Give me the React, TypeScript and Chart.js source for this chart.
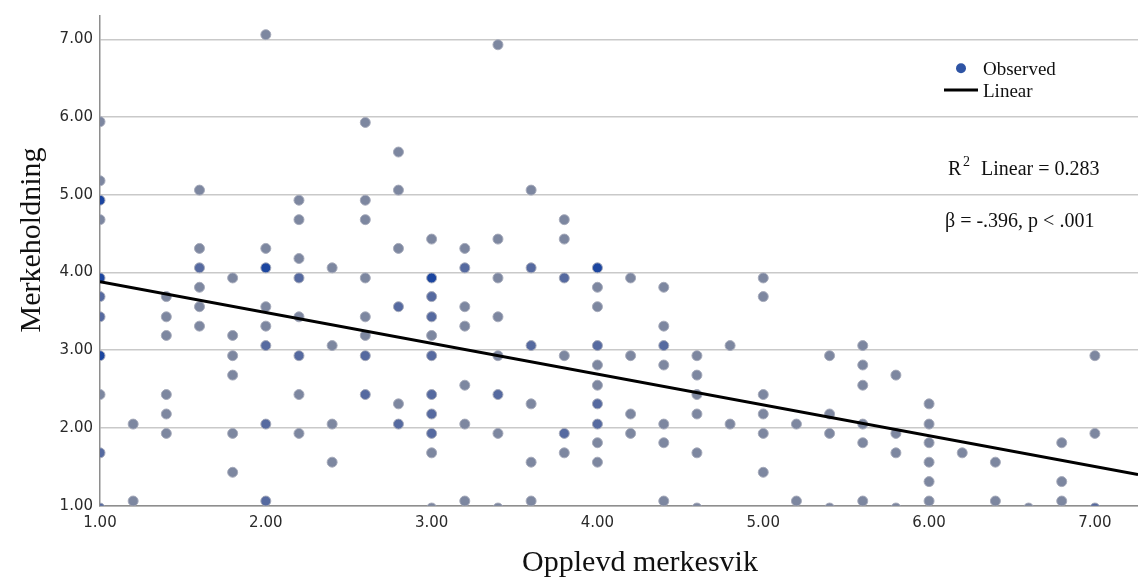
import React, { useEffect, useRef } from "react";
import { Chart, registerables } from "chart.js";

Chart.register(...registerables);

// Observed cases: x, y and number of overlapping cases at that spot
const obsX = [
  1.0, 1.0, 1.0, 1.0, 1.0, 1.0, 1.0, 1.0, 1.0, 1.0, 1.0,
  1.2, 1.2,
  1.4, 1.4, 1.4, 1.4, 1.4, 1.4,
  1.6, 1.6, 1.6, 1.6, 1.6, 1.6,
  1.8, 1.8, 1.8, 1.8, 1.8, 1.8,
  2.0, 2.0, 2.0, 2.0, 2.0, 2.0, 2.0, 2.0,
  2.2, 2.2, 2.2, 2.2, 2.2, 2.2, 2.2, 2.2,
  2.4, 2.4, 2.4, 2.4,
  2.6, 2.6, 2.6, 2.6, 2.6, 2.6, 2.6, 2.6,
  2.8, 2.8, 2.8, 2.8, 2.8, 2.8,
  3.0, 3.0, 3.0, 3.0, 3.0, 3.0, 3.0, 3.0, 3.0, 3.0, 3.0,
  3.2, 3.2, 3.2, 3.2, 3.2, 3.2, 3.2,
  3.4, 3.4, 3.4, 3.4, 3.4, 3.4, 3.4, 3.4,
  3.6, 3.6, 3.6, 3.6, 3.6, 3.6,
  3.8, 3.8, 3.8, 3.8, 3.8, 3.8,
  4.0, 4.0, 4.0, 4.0, 4.0, 4.0, 4.0, 4.0, 4.0, 4.0,
  4.2, 4.2, 4.2, 4.2,
  4.4, 4.4, 4.4, 4.4, 4.4, 4.4, 4.4,
  4.6, 4.6, 4.6, 4.6, 4.6, 4.6,
  4.8, 4.8,
  5.0, 5.0, 5.0, 5.0, 5.0, 5.0,
  5.2, 5.2,
  5.4, 5.4, 5.4, 5.4,
  5.6, 5.6, 5.6, 5.6, 5.6, 5.6,
  5.8, 5.8, 5.8, 5.8,
  6.0, 6.0, 6.0, 6.0, 6.0, 6.0,
  6.2,
  6.4, 6.4,
  6.6,
  6.8, 6.8, 6.8,
  7.0, 7.0, 7.0,
];

const obsY = [
  5.94, 5.18, 4.93, 4.68, 3.93, 3.69, 3.43, 2.93, 2.43, 1.68, 0.97,
  2.05, 1.06,
  3.69, 3.43, 3.19, 2.43, 2.18, 1.93,
  5.06, 4.31, 4.06, 3.81, 3.56, 3.31,
  3.93, 3.19, 2.93, 2.68, 1.93, 1.43,
  7.06, 4.31, 4.06, 3.56, 3.31, 3.06, 2.05, 1.06,
  4.93, 4.68, 4.18, 3.93, 3.43, 2.93, 2.43, 1.93,
  4.06, 3.06, 2.05, 1.56,
  5.93, 4.93, 4.68, 3.93, 3.43, 3.19, 2.93, 2.43,
  5.55, 5.06, 4.31, 3.56, 2.31, 2.05,
  4.43, 3.93, 3.69, 3.43, 3.19, 2.93, 2.43, 2.18, 1.93, 1.68, 0.97,
  4.31, 4.06, 3.56, 3.31, 2.55, 2.05, 1.06,
  6.93, 4.43, 3.93, 3.43, 2.93, 2.43, 1.93, 0.97,
  5.06, 4.06, 3.06, 2.31, 1.56, 1.06,
  4.68, 4.43, 3.93, 2.93, 1.93, 1.68,
  4.06, 3.81, 3.56, 3.06, 2.81, 2.55, 2.31, 2.05, 1.81, 1.56,
  3.93, 2.93, 2.18, 1.93,
  3.81, 3.31, 3.06, 2.81, 2.05, 1.81, 1.06,
  2.93, 2.68, 2.43, 2.18, 1.68, 0.97,
  3.06, 2.05,
  3.93, 3.69, 2.43, 2.18, 1.93, 1.43,
  2.05, 1.06,
  2.93, 2.18, 1.93, 0.97,
  3.06, 2.81, 2.55, 2.05, 1.81, 1.06,
  2.68, 1.93, 1.68, 0.97,
  2.31, 2.05, 1.81, 1.56, 1.31, 1.06,
  1.68,
  1.56, 1.06,
  0.97,
  1.81, 1.31, 1.06,
  2.93, 1.93, 0.97,
];

const obsN = [
  1, 1, 3, 1, 3, 2, 2, 3, 1, 2, 2,
  1, 1,
  1, 1, 1, 1, 1, 1,
  1, 1, 2, 1, 1, 1,
  1, 1, 1, 1, 1, 1,
  1, 1, 3, 1, 1, 2, 2, 2,
  1, 1, 1, 2, 1, 2, 1, 1,
  1, 1, 1, 1,
  1, 1, 1, 1, 1, 1, 2, 2,
  1, 1, 1, 2, 1, 2,
  1, 3, 2, 2, 1, 2, 2, 2, 2, 1, 1,
  1, 2, 1, 1, 1, 1, 1,
  1, 1, 1, 1, 1, 2, 1, 1,
  1, 2, 2, 1, 1, 1,
  1, 1, 2, 1, 2, 1,
  3, 1, 1, 2, 1, 1, 2, 2, 1, 1,
  1, 1, 1, 1,
  1, 1, 2, 1, 1, 1, 1,
  1, 1, 1, 1, 1, 1,
  1, 1,
  1, 1, 1, 1, 1, 1,
  1, 1,
  1, 1, 1, 1,
  1, 1, 1, 1, 1, 1,
  1, 1, 1, 1,
  1, 1, 1, 1, 1, 1,
  1,
  1, 1,
  1,
  1, 1, 1,
  1, 1, 2,
];

// Linear fit line end points
const fitX = [1.0, 7.26];
const fitY = [3.88, 1.4];

const xTicks = [1, 2, 3, 4, 5, 6, 7];
const yTicks = [1, 2, 3, 4, 5, 6, 7];
const xTickLabels = ["1.00", "2.00", "3.00", "4.00", "5.00", "6.00", "7.00"];
const yTickLabels = ["1.00", "2.00", "3.00", "4.00", "5.00", "6.00", "7.00"];

const xTitle = "Opplevd merkesvik";
const yTitle = "Merkeholdning";
const legendLabels = ["Observed", "Linear"];
const r2Label = "R";
const r2Sup = "2";
const r2Rest = "Linear = 0.283";
const betaLabel = "β = -.396, p < .001";

const pointColors = ["rgb(125,135,160)", "rgb(86,106,160)", "rgb(28,70,160)"];
const legendDotColor = "rgb(46,84,164)";

const overlayPlugin = {
  id: "overlayText",
  afterDraw(chart: any) {
    const { ctx, chartArea } = chart;
    const serif = "'Liberation Serif', 'Times New Roman', serif";
    ctx.save();
    ctx.fillStyle = "#111";
    ctx.textBaseline = "alphabetic";

    // x axis title
    ctx.font = `30px ${serif}`;
    ctx.textAlign = "center";
    ctx.fillText(xTitle, 640, 571);

    // y axis title
    ctx.save();
    ctx.translate(40, 240);
    ctx.rotate(-Math.PI / 2);
    ctx.fillText(yTitle, 0, 0);
    ctx.restore();

    // legend
    const lx = chartArea.right - 177;
    ctx.fillStyle = legendDotColor;
    ctx.beginPath();
    ctx.arc(lx, 68.3, 5, 0, Math.PI * 2);
    ctx.fill();
    ctx.fillStyle = "#111";
    ctx.font = `19px ${serif}`;
    ctx.textAlign = "left";
    ctx.fillText(legendLabels[0], lx + 22, 75);
    ctx.strokeStyle = "#000";
    ctx.lineWidth = 3;
    ctx.beginPath();
    ctx.moveTo(lx - 17, 90);
    ctx.lineTo(lx + 17, 90);
    ctx.stroke();
    ctx.fillText(legendLabels[1], lx + 22, 97);

    // statistics
    ctx.font = `20px ${serif}`;
    ctx.fillText(r2Label, 948, 175);
    ctx.font = `14px ${serif}`;
    ctx.fillText(r2Sup, 963, 166);
    ctx.font = `20px ${serif}`;
    ctx.fillText(r2Rest, 981, 175);
    ctx.fillText(betaLabel, 945, 227);

    ctx.restore();
  },
};

export default function App() {
  const canvasRef = useRef<HTMLCanvasElement | null>(null);

  useEffect(() => {
    const canvas = canvasRef.current;
    if (!canvas) return;

    const observed = obsX.map((x, i) => ({ x, y: obsY[i] }));
    const fit = fitX.map((x, i) => ({ x, y: fitY[i] }));

    const tickFont = { family: "'DejaVu Sans', sans-serif", size: 15 };

    const chart = new Chart(canvas, {
      type: "scatter",
      data: {
        datasets: [
          {
            type: "line",
            label: legendLabels[1],
            data: fit,
            borderColor: "#000",
            borderWidth: 3,
            pointRadius: 0,
            fill: false,
            order: 0,
            clip: 0,
          } as any,
          {
            type: "scatter",
            label: legendLabels[0],
            data: observed,
            backgroundColor: obsN.map((n) => pointColors[Math.min(n, 3) - 1]),
            borderColor: "rgba(165,170,185,0.95)",
            borderWidth: 1,
            pointRadius: 5,
            pointHoverRadius: 5,
            order: 1,
            clip: 0,
          } as any,
        ],
      },
      options: {
        animation: false,
        responsive: false,
        events: [],
        layout: { autoPadding: false, padding: { top: 13, right: 0, left: 0, bottom: 0 } },
        plugins: {
          legend: { display: false },
          tooltip: { enabled: false },
        },
        scales: {
          x: {
            type: "linear",
            min: 1,
            max: 7.26,
            afterBuildTicks: (s: any) => {
              s.ticks = xTicks.map((v) => ({ value: v }));
            },
            afterFit: (s: any) => {
              s.height = 72.3;
            },
            grid: { display: false, drawTicks: false },
            border: { display: true, color: "#8e8e8e", width: 1.5 },
            ticks: {
              font: tickFont,
              color: "#2a2a2a",
              padding: 8,
              maxRotation: 0,
              autoSkip: false,
              callback: (v: any) => xTickLabels[xTicks.indexOf(Number(v))] ?? "",
            },
          },
          y: {
            type: "linear",
            min: 1,
            max: 7.3,
            afterBuildTicks: (s: any) => {
              s.ticks = yTicks.map((v) => ({ value: v }));
            },
            afterFit: (s: any) => {
              s.width = 100;
            },
            grid: { display: true, drawTicks: false, color: "#c9c9c9", lineWidth: 1.5 },
            border: { display: true, color: "#8e8e8e", width: 1.5 },
            ticks: {
              font: tickFont,
              color: "#2a2a2a",
              padding: 7,
              autoSkip: false,
              callback: (v: any) => yTickLabels[yTicks.indexOf(Number(v))] ?? "",
            },
          },
        },
      } as any,
      plugins: [overlayPlugin],
    });

    return () => {
      chart.destroy();
    };
  }, []);

  return (
    <div style={{ position: "absolute", left: 0, top: 0, width: 1138, height: 578, background: "#fff" }}>
      <canvas ref={canvasRef} width={1138} height={578} style={{ display: "block" }} />
    </div>
  );
}
